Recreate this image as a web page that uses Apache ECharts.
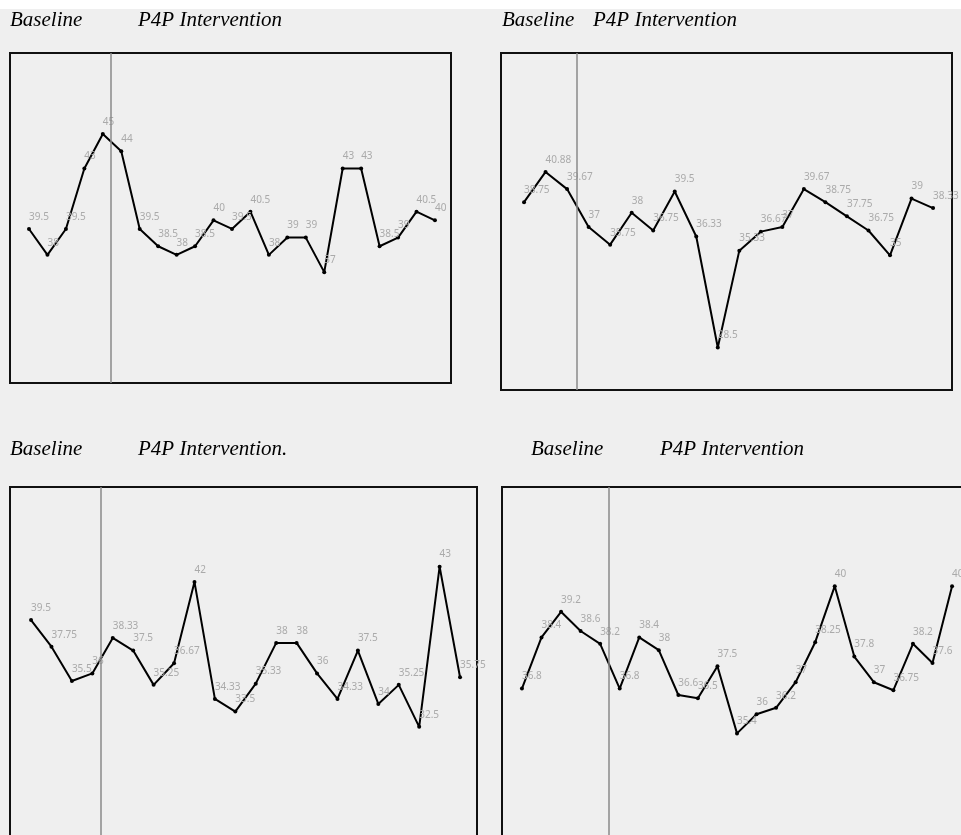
<!DOCTYPE html>
<html>
<head>
<meta charset="utf-8">
<title>P4P Intervention</title>
<script src="https://cdn.jsdelivr.net/npm/echarts@6/dist/echarts.min.js"></script>
<style>
	html, body { margin: 0; padding: 0; background: #fff; }
	#main { width: 961px; height: 835px; }
</style>
</head>
<body>
<div id="main"></div>
<script>
	// panel values (points in order, left to right)
	var panel1 = [39.5, 38, 39.5, 43, 45, 44, 39.5, 38.5, 38, 38.5, 40, 39.5, 40.5, 38, 39, 39, 37, 43, 43, 38.5, 39, 40.5, 40];
	var panel2 = [38.75, 40.88, 39.67, 37, 35.75, 38, 36.75, 39.5, 36.33, 28.5, 35.33, 36.67, 37, 39.67, 38.75, 37.75, 36.75, 35, 39, 38.33];
	var panel3 = [39.5, 37.75, 35.5, 36, 38.33, 37.5, 35.25, 36.67, 42, 34.33, 33.5, 35.33, 38, 38, 36, 34.33, 37.5, 34, 35.25, 32.5, 43, 35.75];
	var panel4 = [36.8, 38.4, 39.2, 38.6, 38.2, 36.8, 38.4, 38, 36.6, 36.5, 37.5, 35.4, 36, 36.2, 37, 38.25, 40, 37.8, 37, 36.75, 38.2, 37.6, 40];

	// where baseline ends (between point indexes)
	var phaseChange = [4.44, 2.46, 3.43, 4.45];

	var baselineText = ['Baseline', 'Baseline', 'Baseline', 'Baseline'];
	var interventionText = ['P4P Intervention', 'P4P Intervention', 'P4P Intervention.', 'P4P Intervention'];

	/*box layout of each panel*/
	var boxes = [
		{ left: 10, top: 53, width: 441, height: 330, xMin: -1.03, xMax: 22.87, yMin: 30.58, yMax: 49.69 },
		{ left: 501, top: 53, width: 451, height: 337, xMin: -1.07, xMax: 19.88, yMin: 25.5, yMax: 49.27 },
		{ left: 10, top: 487, width: 467, height: 400, xMin: -1.03, xMax: 21.83, yMin: 22.0, yMax: 48.22 },
		{ left: 502, top: 487, width: 470, height: 400, xMin: -1.02, xMax: 23.02, yMin: 30.6, yMax: 43.1 }
	];

	/*title positions*/
	var titlePos = [
		{ base: 10, inter: 138, top: 10 },
		{ base: 502, inter: 593, top: 10 },
		{ base: 10, inter: 138, top: 439 },
		{ base: 531, inter: 660, top: 439 }
	];

	var panels = [panel1, panel2, panel3, panel4];

	var grids = [], xAxes = [], yAxes = [], series = [], titles = [];

	function toPoints(values) {
		var pts = [];
		for (var i = 0; i < values.length; i++) {
			pts.push([i, values[i]]);
		}
		return pts;
	}

	function titleStyle() {
		return {
			fontFamily: 'Liberation Serif',
			fontStyle: 'italic',
			fontWeight: 'normal',
			fontSize: 21,
			color: '#000'
		};
	}

	for (var k = 0; k < panels.length; k++) {
		var b = boxes[k];
		grids.push({
			left: b.left,
			top: b.top,
			width: b.width,
			height: b.height,
			outerBoundsMode: 'none',
			containLabel: false,
			show: true,
			borderColor: '#111',
			borderWidth: 2,
			backgroundColor: 'transparent'
		});
		xAxes.push({
			type: 'value',
			gridIndex: k,
			min: b.xMin,
			max: b.xMax,
			show: false,
			splitLine: { show: false }
		});
		yAxes.push({
			type: 'value',
			gridIndex: k,
			min: b.yMin,
			max: b.yMax,
			show: false,
			splitLine: { show: false }
		});
		series.push({
			type: 'line',
			xAxisIndex: k,
			yAxisIndex: k,
			data: toPoints(panels[k]),
			symbol: 'circle',
			symbolSize: 4,
			lineStyle: { color: '#000', width: 2 },
			itemStyle: { color: '#000' },
			label: {
				show: true,
				position: 'top',
				align: 'left',
				distance: 5,
				fontSize: 10,
				fontFamily: 'Noto Sans',
				color: '#aaaaaa',
				formatter: function(p) {
					return p.value[1];
				}
			},
			markLine: {
				silent: true,
				symbol: 'none',
				label: { show: false },
				lineStyle: { color: '#8a8a8a', width: 1.5, type: 'solid' },
				data: [{ xAxis: phaseChange[k] }]
			},
			z: 3
		});
		titles.push({ text: baselineText[k], left: titlePos[k].base, top: titlePos[k].top, padding: 0, textStyle: titleStyle() });
		titles.push({ text: interventionText[k], left: titlePos[k].inter, top: titlePos[k].top, padding: 0, textStyle: titleStyle() });
	}

	var chart = echarts.init(document.getElementById('main'));
	var option = {
		animation: false,
		backgroundColor: '#efefef',
		title: titles,
		graphic: [{
			type: 'rect',
			shape: { x: 0, y: 0, width: 961, height: 9 },
			style: { fill: '#fff' },
			z: -10
		}],
		grid: grids,
		xAxis: xAxes,
		yAxis: yAxes,
		series: series
	};
	chart.setOption(option);
</script>
</body>
</html>
